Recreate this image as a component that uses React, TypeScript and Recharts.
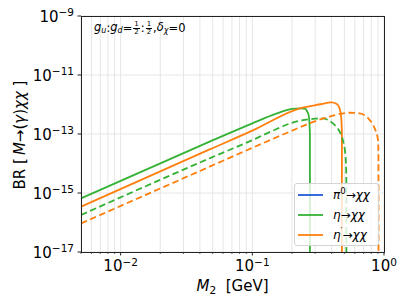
import { LineChart, Line, XAxis, YAxis, CartesianGrid } from 'recharts';

const FONT = '"DejaVu Sans", sans-serif';

const COLORS = {
  pi0: '#1f5bd9',
  eta: '#35b235',
  etaPrime: '#ff7f0e'
};

// M2 [GeV] and BR values (last point = kinematic cut-off)
const etaM2 = [0.005, 0.0474, 0.1, 0.15, 0.2, 0.23, 0.25, 0.262, 0.269, 0.2737, 0.2739];
const etaBR = [6.6e-16, 5.5e-14, 2.3e-13, 4.8e-13, 7.1e-13, 7.4e-13, 7.2e-13, 5.6e-13, 3.9e-13, 1e-13, 1e-20];

const etaPrimeM2 = [0.005, 0.0474, 0.1, 0.229, 0.328, 0.398, 0.4385, 0.46, 0.4735, 0.4788, 0.479];
const etaPrimeBR = [3.45e-16, 3.0e-14, 1.3e-13, 7.4e-13, 1.02e-12, 1.18e-12, 1.04e-12, 7.4e-13, 3.5e-13, 1e-13, 1e-20];

const etaDashM2 = [0.005, 0.0474, 0.1, 0.15, 0.2, 0.25, 0.3, 0.337, 0.409, 0.46, 0.487, 0.511, 0.5175, 0.518];
const etaDashBR = [1.8e-16, 1.5e-14, 6.2e-14, 1.42e-13, 2.4e-13, 3.0e-13, 3.3e-13, 3.4e-13, 2.3e-13, 1.2e-13, 6.2e-14, 1.7e-14, 3e-15, 1e-20];

const etaPrimeDashM2 = [0.005, 0.0474, 0.1, 0.192, 0.272, 0.386, 0.548, 0.653, 0.778, 0.849, 0.9, 0.908, 0.91];
const etaPrimeDashBR = [9.3e-17, 7.8e-15, 3.4e-14, 1.2e-13, 2.3e-13, 3.9e-13, 5.25e-13, 5.0e-13, 3.0e-13, 1.56e-13, 6.3e-14, 1.7e-14, 1e-20];

const xTicks = [
  0.005, 0.006, 0.007, 0.008, 0.009,
  0.01, 0.02, 0.03, 0.04, 0.05, 0.06, 0.07, 0.08, 0.09,
  0.1, 0.2, 0.3, 0.4, 0.5, 0.6, 0.7, 0.8, 0.9, 1
];
const yTicks = [1e-17, 1e-15, 1e-13, 1e-11, 1e-9];

const legendItems = [
  { base: 'π', sup: '0', color: COLORS.pi0 },
  { base: 'η', sup: '', color: COLORS.eta },
  { base: 'η', sup: '′', color: COLORS.etaPrime }
];

const toPoints = (xs: number[], ys: number[]) => xs.map((m, i) => ({ m, br: ys[i] }));

const series = [
  { key: 'eta', data: toPoints(etaM2, etaBR), color: COLORS.eta, dashed: false },
  { key: 'etaPrime', data: toPoints(etaPrimeM2, etaPrimeBR), color: COLORS.etaPrime, dashed: false },
  { key: 'etaDash', data: toPoints(etaDashM2, etaDashBR), color: COLORS.eta, dashed: true },
  { key: 'etaPrimeDash', data: toPoints(etaPrimeDashM2, etaPrimeDashBR), color: COLORS.etaPrime, dashed: true }
];

const expLabel = (v: number) => {
  const e = Math.round(Math.log10(v));
  return e < 0 ? `\u2212${-e}` : `${e}`;
};

const XTick = (props: any) => {
  const { x, y, payload } = props;
  const lg = Math.log10(payload.value);
  const major = Math.abs(lg - Math.round(lg)) < 1e-6;
  return (
    <g>
      <line x1={x} x2={x} y1={y} y2={y + (major ? 3.5 : 2)} stroke="#222" strokeWidth={major ? 1 : 0.7} />
      {major && (
        <text x={x} y={y + 19} textAnchor="middle" fontFamily={FONT} fontSize={15} fill="#000">
          10<tspan dy={-5.5} fontSize={10.5}>{expLabel(payload.value)}</tspan>
        </text>
      )}
    </g>
  );
};

const YTick = (props: any) => {
  const { x, y, payload } = props;
  return (
    <g>
      <line x1={x - 3.5} x2={x} y1={y} y2={y} stroke="#222" strokeWidth={1} />
      <text x={x - 7} y={y + 5.5} textAnchor="end" fontFamily={FONT} fontSize={15} fill="#000">
        10<tspan dy={-5.5} fontSize={10.5}>{expLabel(payload.value)}</tspan>
      </text>
    </g>
  );
};

const Frac = () => (
  <span style={{ display: 'inline-flex', flexDirection: 'column', alignItems: 'center', fontSize: 7, fontStyle: 'normal', lineHeight: '7px', margin: '0 1px' }}>
    <span style={{ borderBottom: '0.7px solid #000', padding: '0 1px' }}>1</span>
    <span>2</span>
  </span>
);

const subStyle = { fontSize: 8, verticalAlign: -2 } as const;

export default function App() {
  // pulled up over the body margin so the top tick label has room
  return (
    <div style={{ position: 'relative', width: 392, height: 298, marginTop: -8 }}>
      <LineChart width={392} height={298} margin={{ top: 16, right: 16, bottom: 0, left: 0 }}>
        <CartesianGrid stroke="#e6e6e6" strokeWidth={1} />
        <XAxis
          dataKey="m"
          type="number"
          scale="log"
          domain={[0.005, 1]}
          ticks={xTicks}
          interval={0}
          allowDataOverflow
          height={46}
          tickSize={0}
          tickMargin={0}
          tickLine={false}
          axisLine={false}
          tick={<XTick />}
        />
        <YAxis
          dataKey="br"
          type="number"
          scale="log"
          domain={[1e-17, 1e-9]}
          ticks={yTicks}
          interval={0}
          allowDataOverflow
          width={73}
          tickSize={0}
          tickMargin={0}
          tickLine={false}
          axisLine={false}
          tick={<YTick />}
        />
        {series.map((s) => (
          <Line
            key={s.key}
            data={s.data}
            dataKey="br"
            type="monotone"
            stroke={s.color}
            strokeWidth={1.8}
            strokeDasharray={s.dashed ? '6.5 3.5' : undefined}
            dot={false}
            activeDot={false}
            isAnimationActive={false}
          />
        ))}
      </LineChart>

      <svg width={392} height={298} style={{ position: 'absolute', left: 0, top: 0, pointerEvents: 'none' }}>
        <rect x={73.5} y={16.5} width={303} height={236} fill="none" stroke="#222" strokeWidth={1} />
        <text x={224.5} y={291} textAnchor="middle" fontFamily={FONT} fontSize={15} fill="#000">
          <tspan fontStyle="italic">M</tspan>
          <tspan fontSize={10.5} dy={3}>2</tspan>
          <tspan dy={-3}>{'\u00a0\u00a0[GeV]'}</tspan>
        </text>
        <text transform="translate(17,135) rotate(-90)" textAnchor="middle" fontFamily={FONT} fontSize={15} fill="#000">
          {'BR [\u2009'}
          <tspan fontStyle="italic">M</tspan>
          {'\u2192('}
          <tspan fontStyle="italic">γ</tspan>
          {')'}
          <tspan fontStyle="italic">χχ</tspan>
          {'\u00a0]'}
        </text>
      </svg>

      <div style={{ position: 'absolute', left: 86, top: 21, fontFamily: FONT, fontSize: 11.5, fontStyle: 'italic', display: 'flex', alignItems: 'center', whiteSpace: 'nowrap', lineHeight: 1 }}>
        <span>g<span style={subStyle}>u</span></span>
        <span style={{ fontStyle: 'normal' }}>:</span>
        <span>g<span style={subStyle}>d</span></span>
        <span style={{ fontStyle: 'normal' }}>=</span>
        <Frac />
        <span style={{ fontStyle: 'normal' }}>:</span>
        <Frac />
        <span style={{ fontStyle: 'normal' }}>,</span>
        <span>δ<span style={subStyle}>χ</span></span>
        <span style={{ fontStyle: 'normal' }}>=0</span>
      </div>

      <div style={{ position: 'absolute', left: 286, top: 183, width: 85, height: 63, boxSizing: 'border-box', border: '1px solid #d4d4d4', borderRadius: 3, background: 'rgba(255,255,255,0.8)', fontFamily: FONT }}>
        {legendItems.map((item, i) => (
          <div key={i} style={{ position: 'absolute', left: 3, top: 11 + i * 20 - 8, height: 16, display: 'flex', alignItems: 'center', whiteSpace: 'nowrap' }}>
            <svg width={25} height={4} style={{ marginRight: 10, display: 'block' }}>
              <line x1={0} x2={25} y1={2} y2={2} stroke={item.color} strokeWidth={1.8} />
            </svg>
            <span style={{ fontSize: 12, fontStyle: 'italic' }}>{item.base}</span>
            {item.sup && <span style={{ fontSize: 8.5, position: 'relative', top: -4 }}>{item.sup}</span>}
            <span style={{ fontSize: 12 }}>{'\u2192'}</span>
            <span style={{ fontSize: 12, fontStyle: 'italic' }}>χχ</span>
          </div>
        ))}
      </div>
    </div>
  );
}
